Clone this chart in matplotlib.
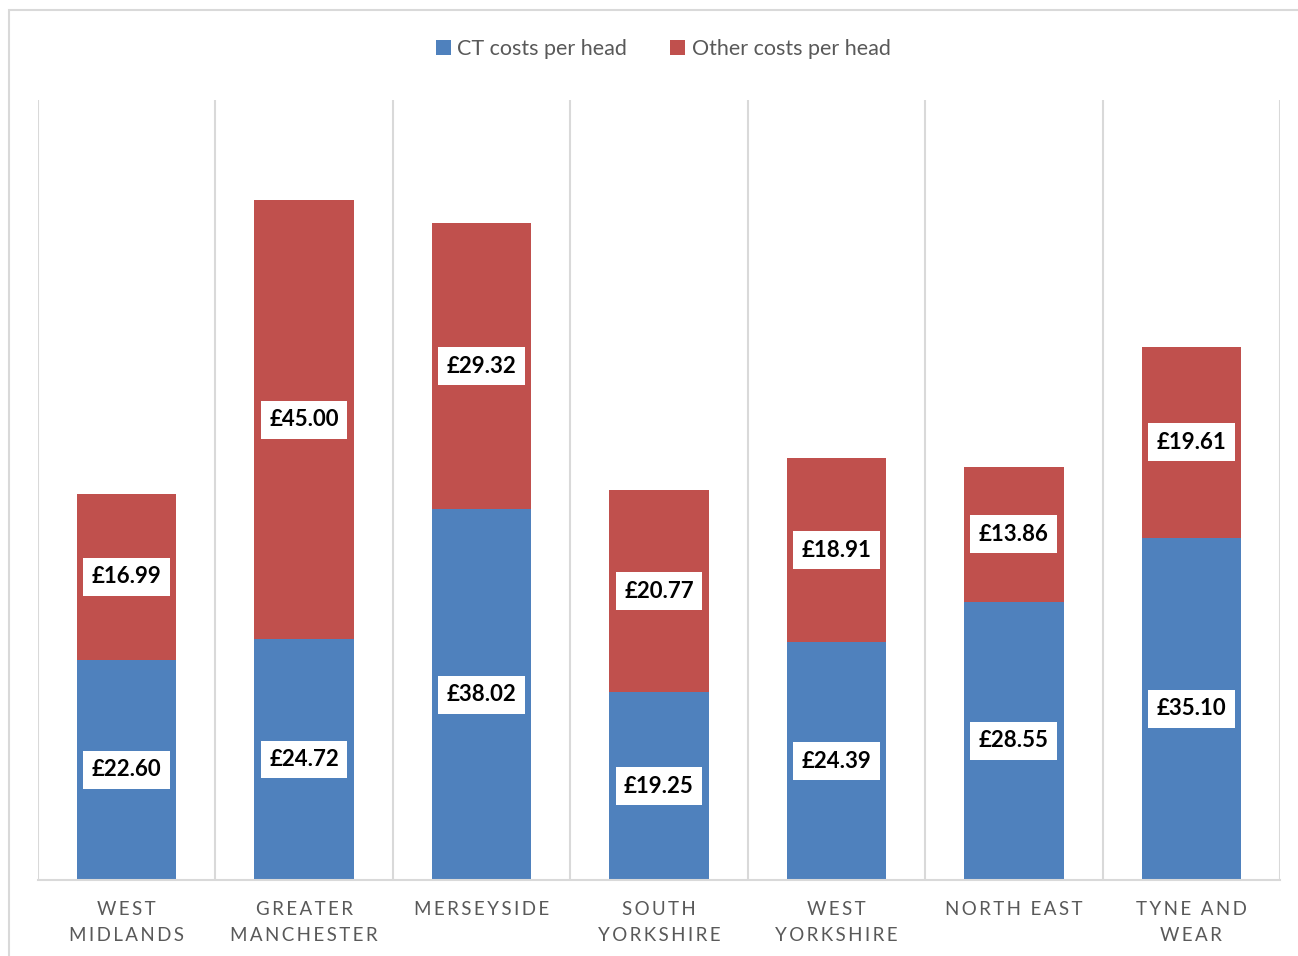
import matplotlib.pyplot as plt
import numpy as np
from matplotlib.patches import Rectangle

regions = [
    "WEST\nMIDLANDS",
    "GREATER\nMANCHESTER",
    "MERSEYSIDE",
    "SOUTH\nYORKSHIRE",
    "WEST\nYORKSHIRE",
    "NORTH EAST",
    "TYNE AND\nWEAR",
]
ct_costs = [22.60, 24.72, 38.02, 19.25, 24.39, 28.55, 35.10]
other_costs = [16.99, 45.00, 29.32, 20.77, 18.91, 13.86, 19.61]

BLUE = "#4F81BD"
RED = "#C0504D"
GRID = "#D9D9D9"
TEXT = "#595959"
FONT = ["Lato", "DejaVu Sans"]


def spaced(label):
    # widen the letter spacing of the category names
    lines = []
    for line in label.split("\n"):
        words = ["\u2009".join(w) for w in line.split(" ")]
        lines.append("\u2009 \u2009".join(words))
    return "\n".join(lines)


fig = plt.figure(figsize=(12.98, 9.56), dpi=100)
ax = fig.add_axes([38 / 1298, 1 - 880 / 956, (1280 - 38) / 1298, (880 - 100) / 956])

# light frame round the whole chart
fig.patches.append(
    Rectangle((9 / 1298, -0.1), 1.2, 1 - 10 / 956 + 0.1, transform=fig.transFigure,
              fill=False, edgecolor=GRID, linewidth=1.5)
)

x = np.arange(len(regions))
width = 0.56
ax.bar(x, ct_costs, width, color=BLUE, label="CT costs per head", zorder=2)
ax.bar(x, other_costs, width, bottom=ct_costs, color=RED,
       label="Other costs per head", zorder=2)

box = dict(boxstyle="square,pad=0.38", facecolor="white", edgecolor="none")
for xi, ct, other in zip(x, ct_costs, other_costs):
    ax.text(xi, ct / 2, f"£{ct:.2f}", ha="center", va="center", fontsize=16,
            fontweight="bold", family=FONT, bbox=box, zorder=3)
    ax.text(xi, ct + other / 2, f"£{other:.2f}", ha="center", va="center",
            fontsize=16, fontweight="bold", family=FONT, bbox=box, zorder=3)

for b in np.arange(len(regions) + 1) - 0.5:
    ax.axvline(b, color=GRID, linewidth=1.5, zorder=1)

ax.set_xlim(-0.5, len(regions) - 0.5)
ax.set_ylim(0, 80)
ax.set_yticks([])
ax.set_xticks(x)
ax.set_xticklabels([spaced(r) for r in regions], fontsize=13.5, color=TEXT,
                   family=FONT, linespacing=1.65, va="top")
ax.tick_params(axis="x", length=0, pad=15)
for side in ["top", "left", "right"]:
    ax.spines[side].set_visible(False)
ax.spines["bottom"].set_color(GRID)
ax.spines["bottom"].set_linewidth(1.5)

leg = fig.legend(loc="center", bbox_to_anchor=(663 / 1298, 1 - 49 / 956), ncol=2,
                 frameon=False, handlelength=0.7, handleheight=0.7,
                 handletextpad=0.3, columnspacing=2.0,
                 prop={"family": FONT, "size": 15.5})
for t in leg.get_texts():
    t.set_color(TEXT)

fig.savefig("out.png", dpi=100)
